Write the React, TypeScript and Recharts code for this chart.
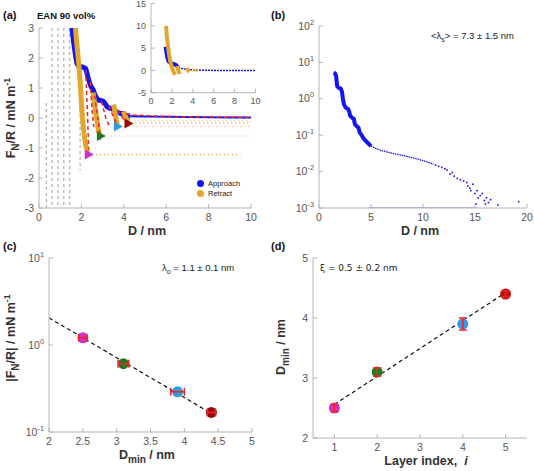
import React from "react";
import {
  Cell,
  ComposedChart,
  ErrorBar,
  Legend,
  Line,
  Scatter,
  XAxis,
  YAxis
} from "recharts";

type Pt = [number, number];
type Seg = [number, number, number, number];

// ---- panel (a): force vs distance ----
const aXTicks = [0, 2, 4, 6, 8, 10];
const aYTicks = [-3, -2, -1, 0, 1, 2, 3];

const approachNear: Pt[] = [
  [1.55, 3.0], [1.62, 2.6], [1.68, 2.3], [1.74, 2.0], [1.8, 1.8], [1.9, 1.72],
  [2.05, 1.7], [2.2, 1.65], [2.28, 1.45], [2.35, 1.25], [2.45, 1.05], [2.55, 0.95],
  [2.62, 0.8], [2.7, 0.68], [2.8, 0.6], [3.0, 0.57], [3.1, 0.5], [3.2, 0.38],
  [3.35, 0.32], [3.55, 0.28], [3.65, 0.2], [3.85, 0.15], [4.0, 0.14], [4.1, 0.08],
  [4.3, 0.06]
];
const approachFar: Pt[] = [
  [4.3, 0.06], [5, 0.05], [6, 0.04], [7, 0.03], [8, 0.025], [9, 0.02], [10, 0.02]
];
const retractA: Pt[] = [
  [1.72, 3.0], [1.78, 2.5], [1.85, 2.0], [1.9, 1.6], [1.96, 1.0], [2.0, 0.5],
  [2.05, 0.0], [2.12, -0.5], [2.2, -0.9], [2.3, -1.15]
];
const retractB: Pt[] = [[2.55, 0.85], [2.62, 0.5], [2.7, 0.1], [2.78, -0.3], [2.85, -0.55]];
const retractC: Pt[] = [[3.52, 0.45], [3.58, 0.2], [3.64, -0.05], [3.7, -0.22]];
const retractD: Pt[] = [[3.98, 0.22], [4.05, 0.1], [4.15, -0.05], [4.22, -0.12]];

const grayDashes: Seg[] = [
  [0.35, 0.5, 0.35, -3],
  [0.62, 3, 0.62, -3],
  [0.9, 3, 0.9, -3],
  [1.17, 3, 1.17, -3],
  [1.45, 3, 1.45, -3],
  [1.94, 0.3, 1.94, -1.75]
];
const jumpOut: Seg[] = [
  [2.5, -1.22, 9.5, -1.22],
  [3.0, -0.6, 10, -0.6],
  [3.85, -0.28, 10, -0.28],
  [4.35, -0.17, 10, -0.17],
  [4.5, -0.1, 10, -0.1]
];
const redFits: Pt[][] = [
  [[2.2, 1.6], [2.28, 0.3], [2.34, -1.05]],
  [[2.42, 1.2], [2.5, 0.3], [2.58, -0.3]],
  [[2.62, 0.75], [2.78, 0.0], [2.9, -0.72]],
  [[2.95, 0.55], [3.15, 0.0], [3.3, -0.25]],
  [[3.3, 0.4], [3.5, 0.05], [3.68, -0.22]],
  [[3.7, 0.25], [3.95, 0.0], [4.2, -0.15]],
  [[4.1, 0.15], [4.4, 0.1], [5, 0.08], [6, 0.05], [8, 0.03], [10, 0.02]]
];
const jumpD = [2.35, 2.92, 3.72, 4.22];
const jumpF = [-1.22, -0.6, -0.28, -0.18];
const layerColors = ["#cc33cc", "#237a23", "#3399dd", "#9a0a0a"];

// inset
const insetXTicks = [0, 2, 4, 6, 8, 10];
const insetYTicks = [-5, 0, 5, 10, 15];
const insetApproachNear: Pt[] = [
  [1.38, 5.3], [1.45, 4.5], [1.55, 3.0], [1.7, 2.0], [1.9, 1.6], [2.2, 1.4],
  [2.4, 1.2], [2.6, 0.6]
];
const insetApproachFar: Pt[] = [[2.6, 0.6], [3.0, 0.4], [3.5, 0.2], [4.5, 0.05], [6, 0], [10, 0]];
const insetRetractA: Pt[] = [
  [1.45, 10], [1.5, 8], [1.6, 6], [1.7, 4], [1.8, 2.5], [1.95, 1], [2.1, 0], [2.3, -1.0]
];
const insetRetractB: Pt[] = [[2.5, 1.0], [2.6, 0], [2.75, -0.8]];
const insetRetractC: Pt[] = [[3.4, 0.5], [3.55, 0], [3.7, -0.3]];
const insetRetractD: Pt[] = [[4.0, 0.2], [4.2, 0], [4.5, 0]];

// ---- panel (b): log force vs distance ----
const bXTicks = [0, 5, 10, 15, 20];
const bYTicks = [0.001, 0.01, 0.1, 1, 10, 100];
const bThick: Pt[] = [
  [1.4, 5.2], [1.55, 5.0], [1.65, 4.2], [1.7, 3.0], [1.75, 2.2], [1.9, 2.0],
  [2.1, 1.9], [2.2, 1.6], [2.3, 1.0], [2.4, 0.7], [2.55, 0.58], [2.8, 0.52],
  [2.9, 0.45], [3.0, 0.34], [3.2, 0.3], [3.35, 0.28], [3.45, 0.2], [3.6, 0.18],
  [3.8, 0.16], [3.9, 0.12], [4.1, 0.1], [4.3, 0.08], [4.6, 0.065], [5.0, 0.05]
];
const bThin: Pt[] = [
  [5.0, 0.05], [5.5, 0.043], [6.0, 0.038], [6.5, 0.035], [7, 0.032], [7.5, 0.03],
  [8, 0.028], [8.5, 0.026], [9, 0.024], [9.5, 0.022], [10, 0.02], [10.5, 0.018],
  [11, 0.016]
];
const bSparse: Pt[] = [
  [11.2, 0.015], [11.5, 0.014], [11.8, 0.013], [12.1, 0.012], [12.3, 0.011],
  [12.6, 0.0085], [12.8, 0.0095], [13, 0.0075], [13.3, 0.0065], [13.6, 0.006],
  [13.9, 0.0055], [14.2, 0.005], [14.3, 0.004], [14.5, 0.0035], [14.6, 0.003],
  [14.8, 0.0045], [15, 0.0025], [15.2, 0.003], [15.3, 0.0019], [15.5, 0.0022],
  [15.7, 0.0025], [15.9, 0.0016], [16.1, 0.0019], [16.3, 0.0014], [16.5, 0.0017],
  [15.1, 0.0013], [16.0, 0.0013], [17.2, 0.0012], [19.2, 0.0015]
];
const bFloor: Pt[] = [[4.8, 0.001], [15.2, 0.001]];

// ---- panel (c): |F/R| at jump vs D_min ----
const cXTicks = [2, 2.5, 3, 3.5, 4, 4.5, 5];
const cYTicks = [0.1, 1, 10];
const cD = [2.5, 3.1, 3.9, 4.4];
const cF = [1.21, 0.61, 0.29, 0.168];
const cErr = [0.06, 0.08, 0.1, 0.06];
const cFit: Pt[] = [[2, 2.05], [4.45, 0.155]];

// ---- panel (d): D_min vs layer index ----
const dXTicks = [1, 2, 3, 4, 5];
const dYTicks = [2, 3, 4, 5];
const dLayer = [1, 2, 4, 5];
const dDmin = [2.5, 3.1, 3.9, 4.4];
const dErr = [0.06, 0.07, 0.1, 0.05];
const dFit: Pt[] = [[1, 2.56], [4.95, 4.4]];

const AXIS = "#b4b4b4";
const TICK_TEXT = "#555";
const FONT = "'Liberation Sans', Arial, sans-serif";
const BLUE = "#1414f0";
const GOLD = "#e3a62c";
const RED = "#f02424";
const M = 4;
const TL = 4;

const xy = (a: Pt[]) => a.map(([x, y]) => ({ x, y }));
const seg = (s: Seg) => [{ x: s[0], y: s[1] }, { x: s[2], y: s[3] }];

function makeTick(side: "bottom" | "left" | "top" | "right", fs = 10.5, log = false) {
  return function Tick(props: any) {
    const { x, y, payload } = props;
    const v = payload.value as number;
    const txt = log ? (
      <>
        10
        <tspan dy={-5} fontSize={fs * 0.7}>
          {Math.round(Math.log10(v))}
        </tspan>
      </>
    ) : (
      String(v)
    );
    if (side === "bottom") {
      return (
        <g>
          <line x1={x} x2={x} y1={y - M} y2={y - M - TL} stroke={AXIS} />
          <text x={x} y={y} dy="0.85em" textAnchor="middle" fontSize={fs} fill={TICK_TEXT} fontFamily={FONT}>
            {txt}
          </text>
        </g>
      );
    }
    if (side === "left") {
      return (
        <g>
          <line x1={x + M} x2={x + M + TL} y1={y} y2={y} stroke={AXIS} />
          <text x={x - 1} y={y} dy="0.35em" textAnchor="end" fontSize={fs} fill={TICK_TEXT} fontFamily={FONT}>
            {txt}
          </text>
        </g>
      );
    }
    if (side === "top") {
      return <line x1={x} x2={x} y1={y + M} y2={y + M + TL} stroke={AXIS} />;
    }
    return <line x1={x - M} x2={x - M - TL} y1={y} y2={y} stroke={AXIS} />;
  };
}

const axisBase = {
  type: "number" as const,
  allowDataOverflow: true,
  axisLine: { stroke: AXIS },
  tickLine: false,
  tickSize: 0,
  tickMargin: M,
  interval: 0 as const
};

// bottom/left axes carry labels, top/right close the box with inward ticks
function axes(
  xDomain: [number, number],
  yDomain: [number, number],
  xTicks: number[],
  yTicks: number[],
  fs = 10.5,
  logY = false
) {
  const ys = logY ? { scale: "log" as const } : {};
  return [
    <XAxis key="xb" dataKey="x" domain={xDomain} ticks={xTicks} height={24} tick={makeTick("bottom", fs)} {...axisBase} />,
    <XAxis key="xt" xAxisId="top" orientation="top" domain={xDomain} ticks={xTicks} height={0} tick={makeTick("top")} {...axisBase} />,
    <YAxis key="yl" dataKey="y" domain={yDomain} ticks={yTicks} width={30} tick={makeTick("left", fs, logY)} {...ys} {...axisBase} />,
    <YAxis key="yr" yAxisId="right" orientation="right" domain={yDomain} ticks={yTicks} width={0} tick={makeTick("right")} {...ys} {...axisBase} />
  ];
}

const lineProps = { dot: false, activeDot: false, isAnimationActive: false, legendType: "none" as const };

const RightTri = (p: any) => (
  <path d={`M${p.cx - 4},${p.cy - 5}L${p.cx + 5},${p.cy}L${p.cx - 4},${p.cy + 5}Z`} fill={p.fill} />
);
const Dot = (p: any) => <circle cx={p.cx} cy={p.cy} r={5.5} fill={p.fill} />;
const Tiny = (p: any) => <rect x={p.cx - 0.8} y={p.cy - 0.8} width={1.6} height={1.6} fill={BLUE} />;
const Nothing = () => <g />;

function AvRLegend(props: any) {
  const items = ((props.payload || []) as any[]).filter(
    (it) => it.value === "Approach" || it.value === "Retract"
  );
  return (
    <div style={{ fontFamily: FONT, fontSize: 7.5, lineHeight: "9.5px", color: "#222" }}>
      {items.map((it) => (
        <div key={it.value} style={{ display: "flex", alignItems: "center" }}>
          <span
            style={{
              display: "inline-block",
              width: 7,
              height: 7,
              borderRadius: "50%",
              background: it.color,
              marginRight: 4
            }}
          />
          {it.value}
        </div>
      ))}
    </div>
  );
}

function PanelA() {
  return (
    <div style={{ position: "absolute", left: 0, top: 0 }}>
      <ComposedChart width={260} height={240} margin={{ top: 28, right: 9, bottom: 8, left: 9 }}>
        {axes([0, 10], [-3, 3], aXTicks, aYTicks)}
        {grayDashes.map((s, i) => (
          <Line key={"g" + i} data={seg(s)} dataKey="y" stroke="#b0b0b0" strokeWidth={1.2} strokeDasharray="3 3" {...lineProps} />
        ))}
        {jumpOut.map((s, i) => (
          <Line key={"j" + i} data={seg(s)} dataKey="y" stroke="#f0a838" strokeWidth={1.2} strokeDasharray="1 3" {...lineProps} />
        ))}
        <Line data={xy(approachNear)} dataKey="y" name="Approach" stroke={BLUE} strokeWidth={5} strokeLinejoin="round" {...lineProps} legendType="circle" />
        <Line data={xy(approachFar)} dataKey="y" stroke={BLUE} strokeWidth={2} {...lineProps} />
        <Line data={xy(retractA)} dataKey="y" name="Retract" stroke={GOLD} strokeWidth={5} strokeLinejoin="round" {...lineProps} legendType="circle" />
        {[retractB, retractC, retractD].map((r, i) => (
          <Line key={"r" + i} data={xy(r)} dataKey="y" stroke={GOLD} strokeWidth={5} strokeLinejoin="round" {...lineProps} />
        ))}
        {redFits.map((r, i) => (
          <Line key={"f" + i} data={xy(r)} dataKey="y" stroke={RED} strokeWidth={1.5} strokeDasharray="4 3" {...lineProps} />
        ))}
        <Scatter data={jumpD.map((x, i) => ({ x, y: jumpF[i] }))} shape={RightTri} isAnimationActive={false} legendType="none">
          {jumpD.map((_, i) => (
            <Cell key={i} fill={layerColors[i]} />
          ))}
        </Scatter>
        <Legend
          content={AvRLegend}
          layout="vertical"
          align="center"
          verticalAlign="middle"
          wrapperStyle={{ left: 197, top: 179, width: 60 }}
        />
      </ComposedChart>
    </div>
  );
}

function InsetA() {
  return (
    <>
      <div style={{ position: "absolute", left: 151, top: 3.5, width: 104.5, height: 89.2, background: "#fff" }} />
      <div style={{ position: "absolute", left: 110, top: 0 }}>
        <ComposedChart width={160} height={120} margin={{ top: 3.5, right: 14.5, bottom: 3.3, left: 11 }}>
          {axes([0, 10], [-5, 15], insetXTicks, insetYTicks, 9)}
          <Line data={xy(insetApproachFar)} dataKey="y" stroke={BLUE} strokeWidth={1.5} strokeDasharray="2 1" {...lineProps} />
          <Line data={xy(insetApproachNear)} dataKey="y" stroke={BLUE} strokeWidth={4} strokeLinejoin="round" {...lineProps} />
          {[insetRetractA, insetRetractB, insetRetractC].map((r, i) => (
            <Line key={i} data={xy(r)} dataKey="y" stroke={GOLD} strokeWidth={4} strokeLinejoin="round" {...lineProps} />
          ))}
          <Line data={xy(insetRetractD)} dataKey="y" stroke={GOLD} strokeWidth={2} {...lineProps} />
        </ComposedChart>
      </div>
    </>
  );
}

function PanelB() {
  return (
    <div style={{ position: "absolute", left: 270, top: 0 }}>
      <ComposedChart width={264} height={240} margin={{ top: 26, right: 7, bottom: 8, left: 19 }}>
        {axes([0, 20], [0.001, 100], bXTicks, bYTicks, 10.5, true)}
        <Line data={xy(bFloor)} dataKey="y" stroke="#8c9af0" strokeWidth={1.5} {...lineProps} />
        <Line data={xy(bThin)} dataKey="y" stroke={BLUE} strokeWidth={1.3} strokeDasharray="1.5 0.8" {...lineProps} />
        <Line data={xy(bThick)} dataKey="y" stroke={BLUE} strokeWidth={4} strokeLinejoin="round" {...lineProps} />
        <Scatter data={xy(bSparse)} shape={Tiny} isAnimationActive={false} legendType="none" />
      </ComposedChart>
    </div>
  );
}

function PanelC() {
  const pts = cD.map((x, i) => ({ x, y: cF[i], ex: cErr[i] }));
  return (
    <div style={{ position: "absolute", left: 0, top: 235 }}>
      <ComposedChart width={265} height={236} margin={{ top: 23, right: 13, bottom: 15, left: 19 }}>
        {axes([2, 5], [0.1, 10], cXTicks, cYTicks, 10.5, true)}
        <Scatter data={pts} shape={Dot} isAnimationActive={false} legendType="none">
          {pts.map((_, i) => (
            <Cell key={i} fill={layerColors[i]} />
          ))}
        </Scatter>
        <Scatter data={pts} shape={Nothing} isAnimationActive={false} legendType="none">
          <ErrorBar dataKey="ex" direction="x" width={4} stroke={RED} strokeWidth={1.5} zIndex={700} />
        </Scatter>
        <Line data={xy(cFit)} dataKey="y" stroke="#111" strokeWidth={1.2} strokeDasharray="4 3" {...lineProps} />
      </ComposedChart>
    </div>
  );
}

function PanelD() {
  const pts = dLayer.map((x, i) => ({ x, y: dDmin[i], ey: dErr[i] }));
  const colors = ["#cc33cc", "#237a23", "#3399ee", "#c40e0e"];
  return (
    <div style={{ position: "absolute", left: 270, top: 235 }}>
      <ComposedChart width={264} height={236} margin={{ top: 23, right: 7, bottom: 9, left: 13 }}>
        {axes([0.5, 5.5], [2, 5], dXTicks, dYTicks)}
        <Scatter data={pts} shape={Dot} isAnimationActive={false} legendType="none">
          {pts.map((_, i) => (
            <Cell key={i} fill={colors[i]} />
          ))}
        </Scatter>
        <Scatter data={pts} shape={Nothing} isAnimationActive={false} legendType="none">
          <ErrorBar dataKey="ey" direction="y" width={4} stroke={RED} strokeWidth={1.5} zIndex={700} />
        </Scatter>
        <Line data={xy(dFit)} dataKey="y" stroke="#111" strokeWidth={1.2} strokeDasharray="4 3" {...lineProps} />
      </ComposedChart>
    </div>
  );
}

function Texts() {
  const lab = { fontFamily: FONT, fontSize: 12.5, fontWeight: 700, fill: "#333" };
  const ann = { fontFamily: FONT, fontSize: 9.5, fill: "#222" };
  const pl = { fontFamily: FONT, fontSize: 11, fontWeight: 700, fill: "#111" };
  return (
    <svg width={534} height={471} style={{ position: "absolute", left: 0, top: 0, pointerEvents: "none" }}>
      <text x={3} y={19} {...pl}>(a)</text>
      <text x={37} y={19} {...pl} fontSize={9.5}>EAN 90 vol%</text>
      <text x={271} y={19} {...pl}>(b)</text>
      <text x={3} y={250} {...pl}>(c)</text>
      <text x={271} y={250} {...pl}>(d)</text>

      <text x={147} y={235} textAnchor="middle" {...lab}>D / nm</text>
      <text x={420} y={235} textAnchor="middle" {...lab}>D / nm</text>
      <text x={15} y={118} textAnchor="middle" transform="rotate(-90 15 118)" {...lab}>
        F<tspan dy={4} fontSize={10}>N</tspan>
        <tspan dy={-4}>/R / mN m</tspan>
        <tspan dy={-5} fontSize={9}>-1</tspan>
      </text>

      <text x={147} y={459} textAnchor="middle" {...lab}>
        D<tspan dy={4} fontSize={10}>min</tspan>
        <tspan dy={-4}> / nm</tspan>
      </text>
      <text x={15} y={338} textAnchor="middle" transform="rotate(-90 15 338)" {...lab}>
        |F<tspan dy={4} fontSize={10}>N</tspan>
        <tspan dy={-4}>/R| / mN m</tspan>
        <tspan dy={-5} fontSize={9}>-1</tspan>
      </text>

      <text x={426} y={465} textAnchor="middle" {...lab}>
        Layer index,{"\u00a0\u00a0"}
        <tspan fontStyle="italic">i</tspan>
      </text>
      <text x={285} y={347} textAnchor="middle" transform="rotate(-90 285 347)" {...lab}>
        D<tspan dy={4} fontSize={10}>min</tspan>
        <tspan dy={-4}> / nm</tspan>
      </text>

      <text x={431} y={39} {...ann}>
        {"<\u03bb"}
        <tspan dy={3} fontSize={7}>s</tspan>
        <tspan dy={-3}>{"> = 7.3 \u00b1 1.5 nm"}</tspan>
      </text>
      <text x={162} y={271} {...ann}>
        {"\u03bb"}
        <tspan dy={3} fontSize={7}>o</tspan>
        <tspan dy={-3}>{" = 1.1 \u00b1 0.1 nm"}</tspan>
      </text>
      <text x={320} y={271} {...ann} fontFamily="'DejaVu Sans', sans-serif" fontSize={9}>
        {"\u03be = 0.5 \u00b1 0.2 nm"}
      </text>
    </svg>
  );
}

export default function App() {
  return (
    <div style={{ position: "absolute", left: 0, top: 0, width: 534, height: 471, background: "#fff" }}>
      <PanelA />
      <InsetA />
      <PanelB />
      <PanelC />
      <PanelD />
      <Texts />
    </div>
  );
}
